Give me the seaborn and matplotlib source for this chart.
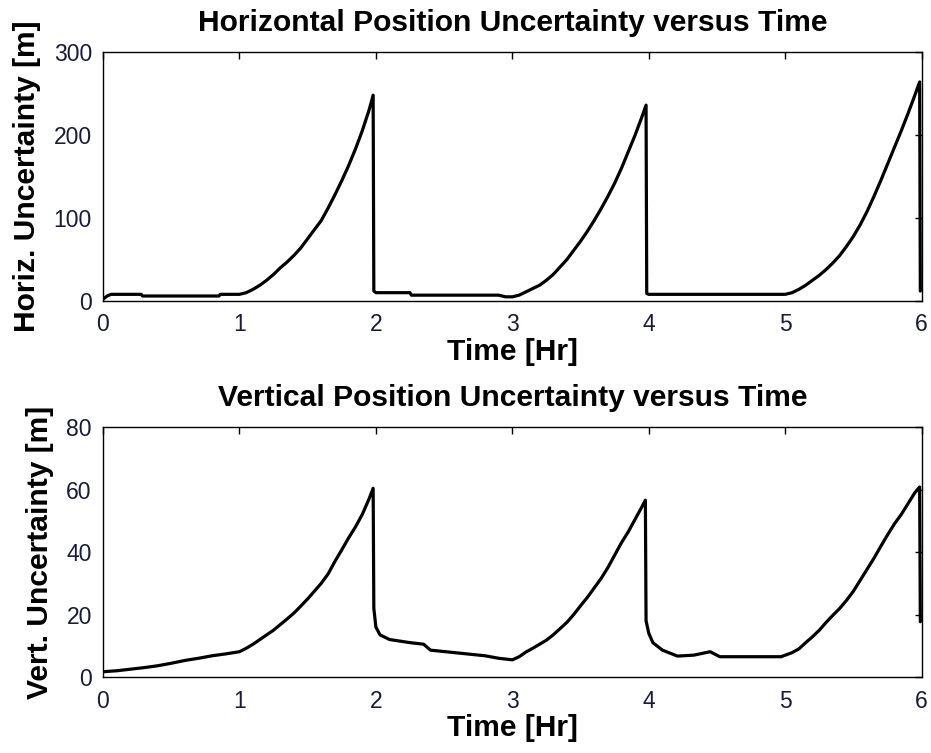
import matplotlib
matplotlib.use("Agg")
import matplotlib.pyplot as plt
import seaborn as sns
import pandas as pd

# ---- data ----
h_time = [0.0, 0.03, 0.06, 0.28, 0.29, 0.85, 0.86, 1.0,
          1.05, 1.1, 1.15, 1.2, 1.25, 1.3, 1.35, 1.4, 1.45, 1.5, 1.55, 1.6,
          1.65, 1.7, 1.75, 1.8, 1.85, 1.9, 1.95, 1.98,
          1.985, 2.0, 2.25, 2.26, 2.9, 2.95, 3.0,
          3.05, 3.1, 3.15, 3.2, 3.25, 3.3, 3.35, 3.4, 3.45, 3.5, 3.55, 3.6,
          3.65, 3.7, 3.75, 3.8, 3.85, 3.9, 3.95, 3.98,
          3.985, 4.0, 4.5, 5.0,
          5.05, 5.1, 5.15, 5.2, 5.25, 5.3, 5.35, 5.4, 5.45, 5.5, 5.55, 5.6,
          5.65, 5.7, 5.75, 5.8, 5.85, 5.9, 5.95, 5.985, 5.99]
h_unc = [2, 6, 8, 8, 6, 6, 8, 8,
         10, 14, 19, 25, 32, 40, 47, 55, 64, 75, 86, 97,
         112, 128, 145, 163, 183, 205, 230, 248,
         12, 10, 10, 7, 7, 5, 5,
         7, 11, 15, 19, 25, 32, 41, 50, 61, 72, 84, 97,
         111, 126, 142, 160, 180, 200, 222, 236,
         9, 8, 8, 8,
         10, 14, 19, 25, 31, 38, 46, 55, 66, 78, 92, 108,
         126, 145, 165, 185, 205, 226, 248, 264, 12]

v_time = [0.0, 0.1, 0.2, 0.3, 0.4, 0.5, 0.6, 0.7, 0.8, 0.9, 1.0,
          1.05, 1.1, 1.15, 1.2, 1.25, 1.3, 1.35, 1.4, 1.45, 1.5, 1.55, 1.6,
          1.65, 1.7, 1.75, 1.8, 1.85, 1.9, 1.95, 1.98,
          1.985, 2.0, 2.03, 2.1, 2.25, 2.35, 2.4, 2.6, 2.8, 2.9, 3.0,
          3.05, 3.1, 3.15, 3.2, 3.25, 3.3, 3.35, 3.4, 3.45, 3.5, 3.55, 3.6,
          3.65, 3.7, 3.75, 3.8, 3.85, 3.9, 3.95, 3.975,
          3.98, 4.0, 4.03, 4.1, 4.21, 4.33, 4.45, 4.52, 4.97,
          5.05, 5.1, 5.15, 5.2, 5.25, 5.3, 5.35, 5.4, 5.45, 5.5, 5.55, 5.6,
          5.65, 5.7, 5.75, 5.8, 5.85, 5.9, 5.95, 5.985, 5.99]
v_unc = [1.7, 2.0, 2.5, 3.0, 3.6, 4.4, 5.3, 6.0, 6.8, 7.4, 8.1,
         9.2, 10.5, 12, 13.5, 15, 16.8, 18.6, 20.5, 22.7, 25, 27.5, 30,
         33, 37, 40.7, 44.5, 48, 52, 57, 60.4,
         22, 16, 13.5, 12, 11, 10.5, 8.6, 7.7, 6.8, 6.0, 5.5,
         6.5, 8, 9.2, 10.5, 11.8, 13.5, 15.5, 17.5, 20, 22.8, 25.5, 28.5,
         31.5, 35, 39, 43, 46.5, 50.5, 54.5, 56.6,
         18, 14, 11, 8.6, 6.7, 7, 8.1, 6.5, 6.5,
         7.8, 9, 11, 12.9, 15, 17.5, 19.8, 22, 24.6, 27.5, 31, 34.5,
         38, 41.8, 45.5, 49, 52, 55.5, 59, 60.8, 17.7]

x_ticks = [0, 1, 2, 3, 4, 5, 6]
h_ticks = [0, 100, 200, 300]
v_ticks = [0, 20, 40, 60, 80]

df_h = pd.DataFrame({"t": h_time, "u": h_unc})
df_v = pd.DataFrame({"t": v_time, "u": v_unc})

sns.set_theme(style="white")
plt.rcParams["font.family"] = ["Liberation Sans", "DejaVu Sans"]

fig = plt.figure(figsize=(9.31, 7.53), dpi=100)
ax1 = fig.add_axes([0.1106, 0.6003, 0.8794, 0.3306])
ax2 = fig.add_axes([0.1106, 0.1009, 0.8794, 0.3320])

panels = [
    (ax1, df_h, h_ticks, (0, 300), "Horiz. Uncertainty [m]",
     "Horizontal Position Uncertainty versus Time"),
    (ax2, df_v, v_ticks, (0, 80), "Vert. Uncertainty [m]",
     "Vertical Position Uncertainty versus Time"),
]

for ax, df, yt, ylim, ylab, title in panels:
    sns.lineplot(data=df, x="t", y="u", ax=ax, color="black", linewidth=2.3,
                 estimator=None, sort=False)
    ax.set_xlim(0, 6)
    ax.set_ylim(*ylim)
    ax.set_xticks(x_ticks)
    ax.set_yticks(yt)
    ax.tick_params(direction="in", length=5, width=1, top=True, right=True,
                   labelsize=16.5, colors="black", labelcolor="#1a1a3a")
    ax.tick_params(axis="x", pad=9)
    ax.tick_params(axis="y", pad=8)
    for s in ax.spines.values():
        s.set_visible(True)
        s.set_color("black")
        s.set_linewidth(1.0)
    ax.set_xlabel("Time [Hr]", fontsize=21.6, fontweight="bold", labelpad=1,
                  color="black")
    ax.set_ylabel(ylab, fontsize=21.6, fontweight="bold", labelpad=9,
                  color="black")
    ax.set_title(title, fontsize=21.6, fontweight="bold", pad=15, color="black")

fig.savefig("out.png", dpi=100)
